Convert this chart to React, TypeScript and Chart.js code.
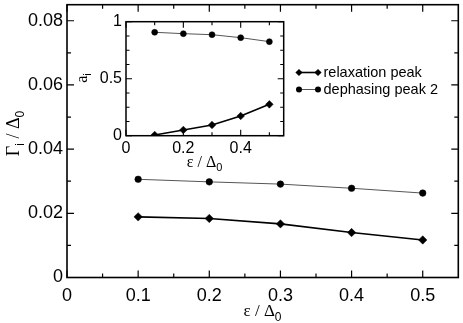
import React, { useEffect, useRef } from "react";
import { Chart, registerables } from "chart.js";

Chart.register(...registerables);

// ---- data ----
const epsValues = [0.1, 0.2, 0.3, 0.4, 0.5];
const relaxationGamma = [0.0189, 0.0184, 0.0167, 0.014, 0.0117];
const dephasingGamma = [0.0306, 0.0298, 0.0291, 0.0278, 0.0263];
const relaxationAmp = [0.006, 0.05, 0.094, 0.173, 0.275];
const dephasingAmp = [0.907, 0.895, 0.886, 0.86, 0.825];

const mainXTicks = [0, 0.1, 0.2, 0.3, 0.4, 0.5];
const mainXMinor = [0.05, 0.15, 0.25, 0.35, 0.45];
const mainYTicks = [0, 0.02, 0.04, 0.06, 0.08];
const mainYMinor = [0.01, 0.03, 0.05, 0.07];
const insetXTicks = [0, 0.2, 0.4];
const insetXMinor = [0.1, 0.3, 0.5];
const insetYTicks = [0, 0.5, 1];
const insetYMinor = [0.125, 0.25, 0.375, 0.625, 0.75, 0.875];
const legendLabels = ["relaxation peak", "dephasing peak 2"];

const SANS = '"Liberation Sans", Arial, sans-serif';
const SERIF = '"Liberation Serif", "Times New Roman", serif';

type Part = { t: string; font: string; dy: number };

function drawParts(ctx: CanvasRenderingContext2D, cx: number, cy: number, rotated: boolean, parts: Part[]) {
  ctx.save();
  ctx.fillStyle = "#000";
  ctx.textBaseline = "alphabetic";
  ctx.textAlign = "left";
  let total = 0;
  const widths = parts.map((p) => {
    ctx.font = p.font;
    const w = ctx.measureText(p.t).width;
    total += w;
    return w;
  });
  ctx.translate(cx, cy);
  if (rotated) ctx.rotate(-Math.PI / 2);
  let x = -total / 2;
  parts.forEach((p, i) => {
    ctx.font = p.font;
    ctx.fillText(p.t, x, p.dy);
    x += widths[i];
  });
  ctx.restore();
}

const frameTicksPlugin = {
  id: "frameTicks",
  afterDraw(chart: any, _args: any, opts: any) {
    const { ctx, chartArea: a, scales } = chart;
    const sx = scales.x;
    const sy = scales.y;
    ctx.save();
    ctx.strokeStyle = "#000";
    ctx.lineWidth = opts.tickWidth;
    ctx.beginPath();
    const xt = (vals: number[], len: number) =>
      vals.forEach((v) => {
        const px = sx.getPixelForValue(v);
        ctx.moveTo(px, a.bottom);
        ctx.lineTo(px, a.bottom - len);
        ctx.moveTo(px, a.top);
        ctx.lineTo(px, a.top + len);
      });
    const yt = (vals: number[], len: number) =>
      vals.forEach((v) => {
        const py = sy.getPixelForValue(v);
        ctx.moveTo(a.left, py);
        ctx.lineTo(a.left + len, py);
        ctx.moveTo(a.right, py);
        ctx.lineTo(a.right - len, py);
      });
    xt(opts.xMajor, opts.majorLen);
    xt(opts.xMinor, opts.minorLen);
    yt(opts.yMajor, opts.majorLen);
    yt(opts.yMinor, opts.minorLen);
    ctx.stroke();
    ctx.lineWidth = opts.frameWidth;
    ctx.strokeRect(a.left, a.top, a.right - a.left, a.bottom - a.top);
    ctx.restore();
  },
};

const titlesPlugin = {
  id: "titles",
  afterDraw(chart: any, _args: any, opts: any) {
    const ctx = chart.ctx;
    (opts.items || []).forEach((it: any) => drawParts(ctx, it.x, it.y, it.rotated, it.parts));
  },
};

function drawMarker(ctx: CanvasRenderingContext2D, style: string, x: number, y: number, r: number) {
  ctx.beginPath();
  if (style === "rectRot") {
    ctx.moveTo(x, y - r);
    ctx.lineTo(x + r, y);
    ctx.lineTo(x, y + r);
    ctx.lineTo(x - r, y);
    ctx.closePath();
  } else {
    ctx.arc(x, y, r, 0, Math.PI * 2);
  }
  ctx.fill();
}

const legendPlugin = {
  id: "customLegend",
  afterDraw(chart: any, _args: any, opts: any) {
    if (!opts.entries) return;
    const ctx = chart.ctx;
    ctx.save();
    opts.entries.forEach((e: any, i: number) => {
      const y = opts.y + i * opts.spacing;
      ctx.strokeStyle = e.color;
      ctx.lineWidth = e.lineWidth;
      ctx.beginPath();
      ctx.moveTo(opts.x0, y);
      ctx.lineTo(opts.x1, y);
      ctx.stroke();
      ctx.fillStyle = "#000";
      drawMarker(ctx, e.style, opts.x0, y, e.r);
      drawMarker(ctx, e.style, opts.x1, y, e.r);
      ctx.font = opts.font;
      ctx.textBaseline = "middle";
      ctx.textAlign = "left";
      ctx.fillText(e.label, opts.textX, y);
    });
    ctx.restore();
  },
};

function pts(xs: number[], ys: number[]) {
  return xs.map((x, i) => ({ x, y: ys[i] }));
}

function fixScale(size: number, isHorizontal: boolean) {
  return (s: any) => {
    if (isHorizontal) s.height = size;
    else s.width = size;
    s.paddingTop = 0;
    s.paddingBottom = 0;
    s.paddingLeft = 0;
    s.paddingRight = 0;
  };
}

export default function App() {
  const mainRef = useRef<HTMLCanvasElement>(null);
  const insetRef = useRef<HTMLCanvasElement>(null);

  useEffect(() => {
    const mainChart = new Chart(mainRef.current as HTMLCanvasElement, {
      type: "line",
      data: {
        datasets: [
          {
            label: legendLabels[0],
            data: pts(epsValues, relaxationGamma),
            borderColor: "#000",
            borderWidth: 1.6,
            pointStyle: "rectRot",
            pointRadius: 4.2,
            pointBackgroundColor: "#000",
            pointBorderColor: "#000",
            pointBorderWidth: 0.5,
          },
          {
            label: legendLabels[1],
            data: pts(epsValues, dephasingGamma),
            borderColor: "#555",
            borderWidth: 1,
            pointStyle: "circle",
            pointRadius: 3.3,
            pointBackgroundColor: "#000",
            pointBorderColor: "#000",
            pointBorderWidth: 0.5,
          },
        ],
      },
      options: {
        animation: false,
        responsive: false,
        maintainAspectRatio: false,
        layout: { padding: { left: 0, right: 2, top: 2, bottom: 0 } },
        plugins: {
          legend: { display: false },
          tooltip: { enabled: false },
          frameTicks: {
            xMajor: mainXTicks,
            xMinor: mainXMinor,
            yMajor: mainYTicks,
            yMinor: mainYMinor,
            majorLen: 7,
            minorLen: 4,
            tickWidth: 1.2,
            frameWidth: 1.6,
          },
          titles: {
            items: [
              {
                x: 262.5,
                y: 315.5,
                rotated: false,
                parts: [
                  { t: "ε / Δ", font: `17px ${SERIF}`, dy: 0 },
                  { t: "0", font: `12px ${SANS}`, dy: 5 },
                ],
              },
              {
                x: 19,
                y: 133.5,
                rotated: true,
                parts: [
                  { t: "Γ", font: `18px ${SERIF}`, dy: 0 },
                  { t: "i", font: `12px ${SANS}`, dy: 5 },
                  { t: " / Δ", font: `18px ${SERIF}`, dy: 0 },
                  { t: "0", font: `12px ${SANS}`, dy: 5 },
                ],
              },
            ],
          },
          customLegend: {
            x0: 299,
            x1: 318,
            textX: 323.5,
            y: 72.5,
            spacing: 17,
            font: `14.5px ${SANS}`,
            entries: [
              { label: legendLabels[0], style: "rectRot", r: 3.6, color: "#000", lineWidth: 1.6 },
              { label: legendLabels[1], style: "circle", r: 3, color: "#555", lineWidth: 1 },
            ],
          },
        } as any,
        scales: {
          x: {
            type: "linear",
            min: 0,
            max: 0.55,
            grid: { display: false, drawTicks: false },
            border: { display: false },
            ticks: {
              color: "#000",
              font: { family: SANS, size: 18 },
              padding: 8,
              maxRotation: 0,
              autoSkip: false,
              callback: (v: any) => String(v),
            },
            afterBuildTicks: (s: any) => {
              s.ticks = mainXTicks.map((v) => ({ value: v }));
            },
            afterFit: fixScale(45.5, true),
          },
          y: {
            type: "linear",
            min: 0,
            max: 0.085,
            grid: { display: false, drawTicks: false },
            border: { display: false },
            ticks: {
              color: "#000",
              font: { family: SANS, size: 18 },
              padding: 4,
              autoSkip: false,
              callback: (v: any) => String(v),
            },
            afterBuildTicks: (s: any) => {
              s.ticks = mainYTicks.map((v) => ({ value: v }));
            },
            afterFit: fixScale(67, false),
          },
        },
      },
      plugins: [frameTicksPlugin, titlesPlugin, legendPlugin],
    });

    const insetChart = new Chart(insetRef.current as HTMLCanvasElement, {
      type: "line",
      data: {
        datasets: [
          {
            data: pts(epsValues, relaxationAmp),
            borderColor: "#000",
            borderWidth: 1.6,
            pointStyle: "rectRot",
            pointRadius: 3.8,
            pointBackgroundColor: "#000",
            pointBorderColor: "#000",
            pointBorderWidth: 0.5,
          },
          {
            data: pts(epsValues, dephasingAmp),
            borderColor: "#555",
            borderWidth: 1,
            pointStyle: "circle",
            pointRadius: 3,
            pointBackgroundColor: "#000",
            pointBorderColor: "#000",
            pointBorderWidth: 0.5,
          },
        ],
      },
      options: {
        animation: false,
        responsive: false,
        maintainAspectRatio: false,
        layout: { padding: { left: 0, right: 6.3, top: 11.7, bottom: 0 } },
        plugins: {
          legend: { display: false },
          tooltip: { enabled: false },
          frameTicks: {
            xMajor: insetXTicks,
            xMinor: insetXMinor,
            yMajor: insetYTicks,
            yMinor: insetYMinor,
            majorLen: 6,
            minorLen: 3.5,
            tickWidth: 1.1,
            frameWidth: 1.5,
          },
          titles: {
            items: [
              {
                x: 134.5,
                y: 156.5,
                rotated: false,
                parts: [
                  { t: "ε / Δ", font: `16px ${SERIF}`, dy: 0 },
                  { t: "0", font: `11px ${SANS}`, dy: 4.5 },
                ],
              },
              {
                x: 16.5,
                y: 68,
                rotated: true,
                parts: [
                  { t: "a", font: `16px ${SERIF}`, dy: 0 },
                  { t: "i", font: `11px ${SANS}`, dy: 4 },
                ],
              },
            ],
          },
        } as any,
        scales: {
          x: {
            type: "linear",
            min: 0,
            max: 0.55,
            grid: { display: false, drawTicks: false },
            border: { display: false },
            ticks: {
              color: "#000",
              font: { family: SANS, size: 16 },
              padding: 3,
              maxRotation: 0,
              autoSkip: false,
              callback: (v: any) => String(v),
            },
            afterBuildTicks: (s: any) => {
              s.ticks = insetXTicks.map((v) => ({ value: v }));
            },
            afterFit: fixScale(44.3, true),
          },
          y: {
            type: "linear",
            min: 0,
            max: 1,
            grid: { display: false, drawTicks: false },
            border: { display: false },
            ticks: {
              color: "#000",
              font: { family: SANS, size: 16 },
              padding: 4,
              autoSkip: false,
              callback: (v: any) => String(v),
            },
            afterBuildTicks: (s: any) => {
              s.ticks = insetYTicks.map((v) => ({ value: v }));
            },
            afterFit: fixScale(56, false),
          },
        },
      },
      plugins: [frameTicksPlugin, titlesPlugin],
    });

    return () => {
      mainChart.destroy();
      insetChart.destroy();
    };
  }, []);

  return (
    <div style={{ position: "absolute", left: 0, top: 0, width: 463, height: 323, background: "#fff" }}>
      <canvas
        ref={mainRef}
        width={463}
        height={323}
        style={{ position: "absolute", left: 0, top: 0, width: 463, height: 323, display: "block" }}
      />
      <canvas
        ref={insetRef}
        width={220}
        height={170}
        style={{ position: "absolute", left: 70, top: 10, width: 220, height: 170, display: "block" }}
      />
    </div>
  );
}
